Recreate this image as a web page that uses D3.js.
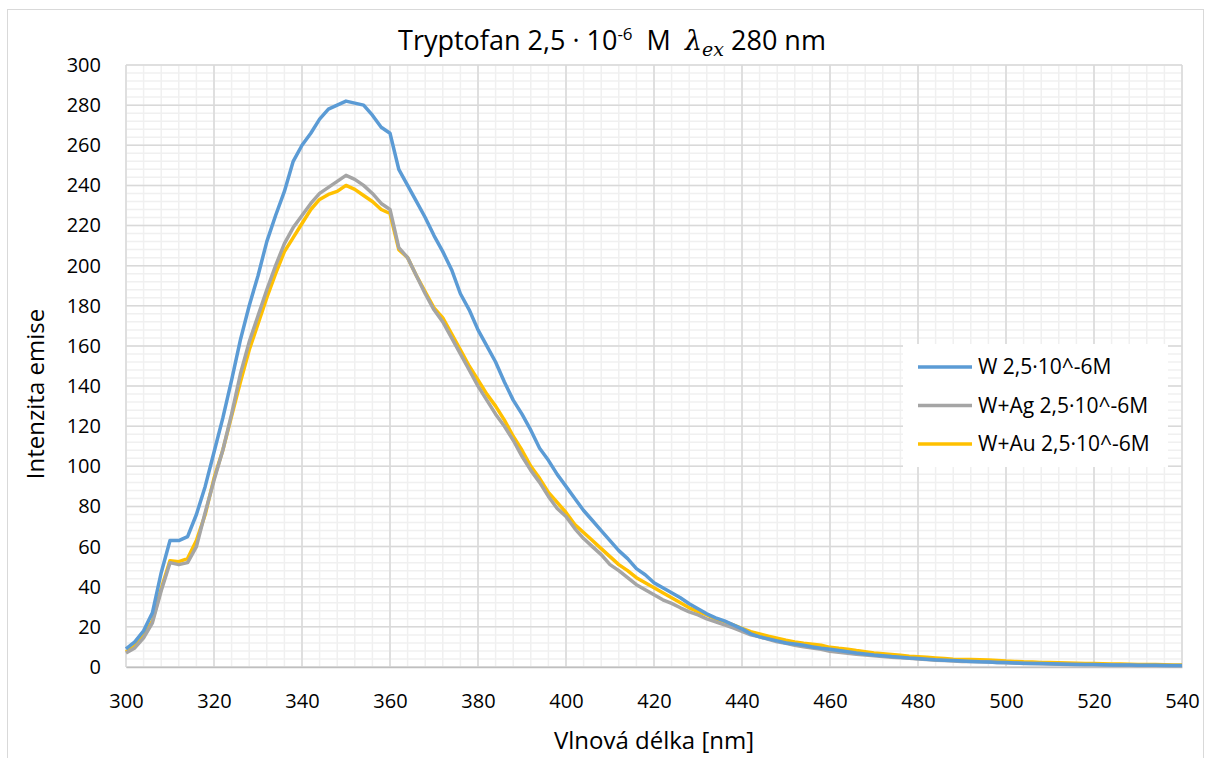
<!DOCTYPE html>
<html>
<head>
<meta charset="utf-8">
<script src="https://cdn.jsdelivr.net/npm/d3@7"></script>
<style>
  body { margin: 0; background: #fff; }
  svg text { font-family: "Open Sans", "Noto Sans", sans-serif; fill: #000; }
</style>
</head>
<body>
<div id="graf"></div>
<script>
// Rozměry
const sirka = 1206, vyska = 758;
const okraj = {vlevo: 126, vpravo: 24, nahore: 65, dole: 91};

// Data (krok 2 nm)
const vlnoveDelky = d3.range(300, 541, 2);
const serieW = [9, 12.5, 18, 27, 47, 63, 63, 65, 76, 90, 107, 124, 143, 163, 180, 195, 212, 225, 237, 252,
  260, 266, 273, 278, 280, 282, 281, 280, 275, 269, 266, 248, 240, 232, 224, 215, 207, 198, 186, 178,
  168, 160, 152, 142, 133, 126, 118, 109, 103, 96, 90, 84, 78, 73, 68, 63, 58, 54, 49, 46,
  42, 39.5, 37, 34.5, 31.5, 29, 26.5, 24.5, 23, 21, 19, 16.5, 15, 14, 13, 12, 11.5, 10.8, 10, 9.3,
  8.8, 8.2, 7.6, 7, 6.5, 6, 5.6, 5.2, 4.9, 4.5, 4.2, 3.9, 3.6, 3.4, 3.2, 3, 2.8, 2.6, 2.5, 2.3,
  2.2, 2, 1.9, 1.8, 1.7, 1.6, 1.5, 1.4, 1.3, 1.25, 1.2, 1.1, 1.05, 1, 0.95, 0.9, 0.9, 0.85, 0.8, 0.8, 0.75];
const serieAg = [7, 9.5, 14.5, 22, 38, 52, 51, 52, 60, 77, 93, 108, 126, 146, 162, 175, 188, 200, 211, 219,
  225, 231, 236, 239, 242, 245, 243, 240, 236, 231, 228, 209, 204, 195, 186, 178, 172, 164, 156, 148,
  140, 133, 126, 120, 113, 105, 98, 92, 85, 79, 75, 69, 64, 60, 56, 51, 48, 44.5, 41, 38.5,
  36, 33.5, 31.7, 29.5, 27.5, 26, 24, 22.5, 21, 19.5, 17.8, 16, 15, 13.8, 12.6, 11.8, 10.8, 10.1, 9.5, 8.8,
  7.8, 7.3, 6.9, 6.4, 6, 5.6, 5.2, 4.9, 4.6, 4.3, 4, 3.7, 3.4, 3.2, 3, 2.8, 2.7, 2.6, 2.5, 2.3,
  2.1, 2, 1.8, 1.7, 1.6, 1.5, 1.4, 1.3, 1.2, 1.15, 1.1, 1, 0.95, 0.9, 0.85, 0.8, 0.75, 0.7, 0.7, 0.65, 0.6];
const serieAu = [7.5, 10.5, 15.5, 23, 39, 53, 52.5, 54, 63, 76, 94, 108, 125, 142, 158, 171, 184, 196, 207, 214,
  221, 228, 233, 235.5, 237, 240, 238, 235, 232, 228, 226, 208, 204, 195, 187, 179, 174, 166, 158, 150,
  143, 136, 130, 123, 115, 108, 100, 94, 87, 82, 77, 71, 67, 63, 59, 55, 51, 48, 44.5, 42,
  39.5, 37, 34.5, 32, 29.5, 27.6, 26, 24, 22.6, 21, 19.3, 17.6, 16.5, 15.3, 14.3, 13.3, 12.5, 11.8, 11.3, 10.8,
  9.8, 9.3, 8.9, 8.2, 7.6, 7, 6.6, 6.2, 5.8, 5.4, 5.1, 4.8, 4.5, 4.2, 3.9, 3.8, 3.7, 3.6, 3.5, 3.3,
  3, 2.8, 2.6, 2.5, 2.3, 2.2, 2.1, 2, 1.9, 1.8, 1.7, 1.6, 1.55, 1.5, 1.4, 1.3, 1.25, 1.2, 1.1, 1.05, 1];

const nazvySerii = ["W 2,5·10^-6M", "W+Ag 2,5·10^-6M", "W+Au 2,5·10^-6M"];
const barvySerii = ["#5B9BD5", "#A5A5A5", "#FFC000"];
const hodnotySerii = [serieW, serieAg, serieAu];

const xTicky = d3.range(300, 541, 20);
const yTicky = d3.range(0, 301, 20);

const svg = d3.select("#graf").append("svg")
  .attr("width", sirka)
  .attr("height", vyska);

// Rámeček celého grafu
svg.append("rect")
  .attr("x", 7.5).attr("y", 9.5)
  .attr("width", 1196).attr("height", 760)
  .attr("fill", "#fff")
  .attr("stroke", "#d9d9d9");

const x = d3.scaleLinear().domain([300, 540]).range([okraj.vlevo, sirka - okraj.vpravo]);
const y = d3.scaleLinear().domain([0, 300]).range([vyska - okraj.dole, okraj.nahore]);

// Mřížka – vedlejší
const mrizka = svg.append("g");
mrizka.selectAll(".vx").data(d3.range(300, 541, 4)).enter().append("line")
  .attr("x1", d => x(d)).attr("x2", d => x(d))
  .attr("y1", y(0)).attr("y2", y(300))
  .attr("stroke", "#f0f0f0").attr("stroke-width", 1.5);
mrizka.selectAll(".vy").data(d3.range(0, 301, 4)).enter().append("line")
  .attr("x1", x(300)).attr("x2", x(540))
  .attr("y1", d => y(d)).attr("y2", d => y(d))
  .attr("stroke", "#f0f0f0").attr("stroke-width", 1.5);
// Mřížka – hlavní
mrizka.selectAll(".hx").data(xTicky).enter().append("line")
  .attr("x1", d => x(d)).attr("x2", d => x(d))
  .attr("y1", y(0)).attr("y2", y(300))
  .attr("stroke", "#d9d9d9").attr("stroke-width", 1.5);
mrizka.selectAll(".hy").data(yTicky).enter().append("line")
  .attr("x1", x(300)).attr("x2", x(540))
  .attr("y1", d => y(d)).attr("y2", d => y(d))
  .attr("stroke", "#d9d9d9").attr("stroke-width", 1.5);

// Osy
const osaX = svg.append("g")
  .attr("transform", `translate(0,${y(0)})`)
  .call(d3.axisBottom(x).tickValues(xTicky).tickSize(0).tickPadding(27));
osaX.select(".domain").attr("stroke", "#bfbfbf").attr("stroke-width", 1.5);
osaX.selectAll("text").style("font-size", "20px");

const osaY = svg.append("g")
  .attr("transform", `translate(${x(300)},0)`)
  .call(d3.axisLeft(y).tickValues(yTicky).tickSize(0).tickPadding(25));
osaY.select(".domain").remove();
osaY.selectAll("text").style("font-size", "20px");

// Křivky
const cara = d3.line()
  .x((d, i) => x(vlnoveDelky[i]))
  .y(d => y(d));

svg.append("g").selectAll("path")
  .data(hodnotySerii.map((h, i) => ({h, i})).reverse())
  .enter().append("path")
  .attr("d", d => cara(d.h))
  .attr("fill", "none")
  .attr("stroke", d => barvySerii[d.i])
  .attr("stroke-width", 3.5)
  .attr("stroke-linejoin", "round");

// Nadpis
const nadpis = svg.append("text")
  .attr("x", 612).attr("y", 50)
  .attr("text-anchor", "middle")
  .style("font-size", "27px");
nadpis.append("tspan").text("Tryptofan 2,5 · 10");
nadpis.append("tspan").attr("dy", -10).style("font-size", "17px").text("-6");
nadpis.append("tspan").attr("dy", 10).text("\u00a0 M\u00a0 ");
nadpis.append("tspan").style("font-family", "'DejaVu Serif', serif").style("font-style", "italic").text("λ");
nadpis.append("tspan").attr("dy", 6).style("font-family", "'DejaVu Serif', serif").style("font-style", "italic").style("font-size", "19px").text("ex");
nadpis.append("tspan").attr("dy", -6).text(" 280 nm");

// Popisky os
svg.append("text")
  .attr("x", (x(300) + x(540)) / 2).attr("y", 749)
  .attr("text-anchor", "middle")
  .style("font-size", "24px")
  .text("Vlnová délka [nm]");

svg.append("text")
  .attr("transform", `translate(44,394) rotate(-90)`)
  .attr("text-anchor", "middle")
  .style("font-size", "24px")
  .text("Intenzita emise");

// Legenda
const legenda = svg.append("g").attr("transform", "translate(903,344)");
legenda.append("rect").attr("width", 265).attr("height", 123).attr("fill", "#fff");
const polozky = legenda.selectAll("g").data(nazvySerii).enter().append("g")
  .attr("transform", (d, i) => `translate(0,${23 + i * 38.5})`);
polozky.append("line")
  .attr("x1", 15).attr("x2", 69)
  .attr("stroke", (d, i) => barvySerii[i])
  .attr("stroke-width", 3.5);
polozky.append("text")
  .attr("x", 75).attr("dy", "0.35em")
  .style("font-size", "21px")
  .text(d => d);
</script>
</body>
</html>
